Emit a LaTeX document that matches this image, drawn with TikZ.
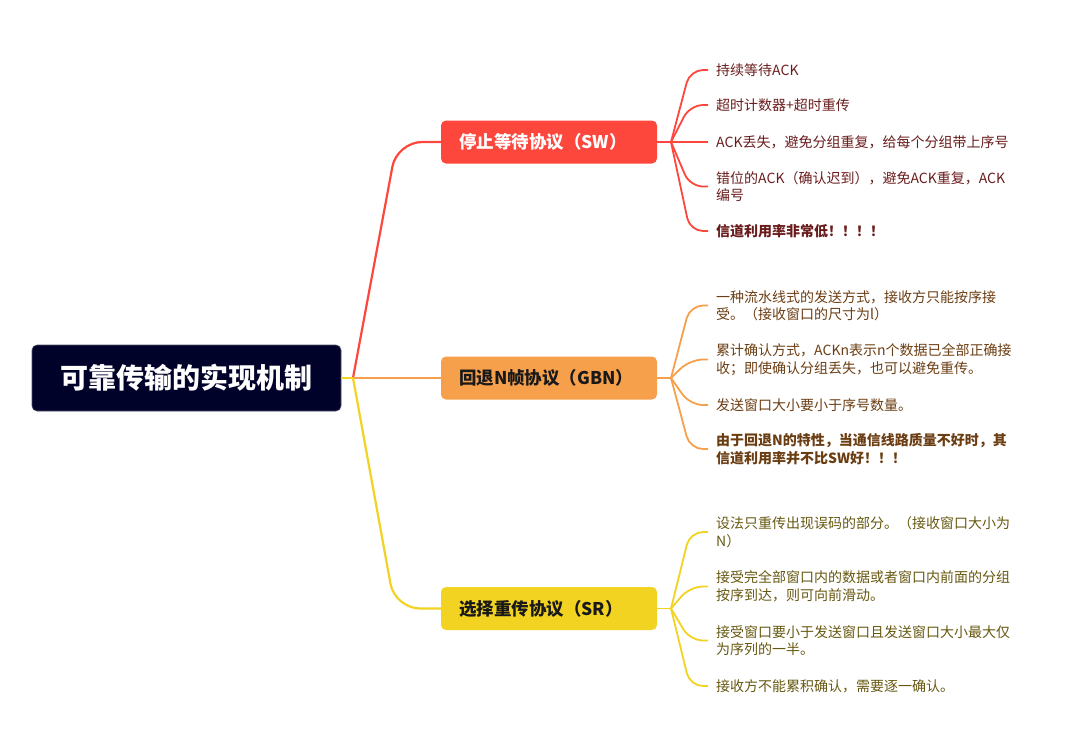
\documentclass[tikz,border=0pt]{standalone}
\usepackage{fontspec}
\setmainfont{Noto Sans CJK SC}
\definecolor{rootc}{HTML}{01022A}
\definecolor{swc}{HTML}{FD463C}
\definecolor{gbnc}{HTML}{F7A04C}
\definecolor{src}{HTML}{F2D322}
\definecolor{swt}{HTML}{6A1C1C}
\definecolor{gbnt}{HTML}{6B3D12}
\definecolor{srt}{HTML}{665810}
\begin{document}
\begin{tikzpicture}[x=1pt,y=-1pt,
  rootbox/.style={fill=rootc,draw=rootc!70!white,line width=0.6pt,rounded corners=5pt,minimum width=309pt,minimum height=66pt,text=white,font=\fontsize{28}{32}\selectfont\bfseries,inner sep=0pt},
  branchbox/.style={rounded corners=5pt,minimum width=216pt,minimum height=43pt,text width=180pt,align=left,inner xsep=18pt,inner ysep=0pt,font=\fontsize{17.5}{20}\selectfont\bfseries},
  leaf/.style={anchor=west,inner xsep=8pt,inner ysep=0pt,align=left,font=\fontsize{14}{17.5}\selectfont},
  rootline/.style={line width=2.2pt,rounded corners=25pt},
  leafline/.style={line width=1.8pt,rounded corners=13pt}]
\useasboundingbox (0,0) rectangle (1076,748);
% root and branches
\node[rootbox] (root) at (186.5,378) {可靠传输的实现机制};
\node[branchbox,fill=swc,text=white] (sw) at (549,142) {停止等待协议（SW）};
\node[branchbox,fill=gbnc,text=black!90] (gbn) at (549,378) {回退N帧协议（GBN）};
\node[branchbox,fill=src,text=black!90] (sr) at (549,608.5) {选择重传协议（SR）};
\coordinate (rj) at (353,378);
\coordinate (c1) at (397,142);
\coordinate (c3) at (395,608.5);
\draw[rootline,swc] (rj) -- (c1) -- (sw.west);
\draw[rootline,gbnc] (rj) -- (gbn.west);
\draw[rootline,src] (rj) -- (c3) -- (sr.west);
\draw[rootline,src] (root.east) -- (rj);
% SW leaves
\node[leaf,text=swt] (s1) at (708,70) {持续等待ACK};
\node[leaf,text=swt] (s2) at (708,105) {超时计数器+超时重传};
\node[leaf,text=swt] (s3) at (708,142) {ACK丢失，避免分组重复，给每个分组带上序号};
\node[leaf,text=swt] (s4) at (708,186.5) {错位的ACK（确认迟到），避免ACK重复，ACK\\编号};
\node[leaf,text=swt,font=\fontsize{14}{17.5}\selectfont\bfseries] (s5) at (708,231) {信道利用率非常低！！！！};
\coordinate (swj) at (671,142);
\draw[leafline,swc] (sw.east) -- (swj) -- (s3.west);
\foreach \n/\y in {s1/70,s2/105,s4/186.5,s5/231}{
  \coordinate (k\n) at (690,\y);
  \draw[leafline,swc] (swj) -- (k\n) -- (\n.west);
}
% GBN leaves
\node[leaf,text=gbnt] (g1) at (708,305.5) {一种流水线式的发送方式，接收方只能按序接\\受。（接收窗口的尺寸为l）};
\node[leaf,text=gbnt] (g2) at (708,359.5) {累计确认方式，ACKn表示n个数据已全部正确接\\收；即使确认分组丢失，也可以避免重传。};
\node[leaf,text=gbnt] (g3) at (708,405) {发送窗口大小要小于序号数量。};
\node[leaf,text=gbnt,font=\fontsize{14}{17.5}\selectfont\bfseries] (g4) at (708,449) {由于回退N的特性，当通信线路质量不好时，其\\信道利用率并不比SW好！！！};
\coordinate (gj) at (671,378);
\draw[leafline,gbnc] (gbn.east) -- (gj);
\foreach \n/\y in {g1/305.5,g2/359.5,g3/405,g4/449}{
  \coordinate (k\n) at (690,\y);
  \draw[leafline,gbnc] (gj) -- (k\n) -- (\n.west);
}
% SR leaves
\node[leaf,text=srt] (r1) at (708,532) {设法只重传出现误码的部分。（接收窗口大小为\\N）};
\node[leaf,text=srt] (r2) at (708,586.5) {接受完全部窗口内的数据或者窗口内前面的分组\\按序到达，则可向前滑动。};
\node[leaf,text=srt] (r3) at (708,640.5) {接受窗口要小于发送窗口且发送窗口大小最大仅\\为序列的一半。};
\node[leaf,text=srt] (r4) at (708,686) {接收方不能累积确认，需要逐一确认。};
\coordinate (rjj) at (671,608.5);
\draw[leafline,src] (sr.east) -- (rjj);
\foreach \n/\y in {r1/532,r2/586.5,r3/640.5,r4/686}{
  \coordinate (k\n) at (690,\y);
  \draw[leafline,src] (rjj) -- (k\n) -- (\n.west);
}
\end{tikzpicture}
\end{document}
